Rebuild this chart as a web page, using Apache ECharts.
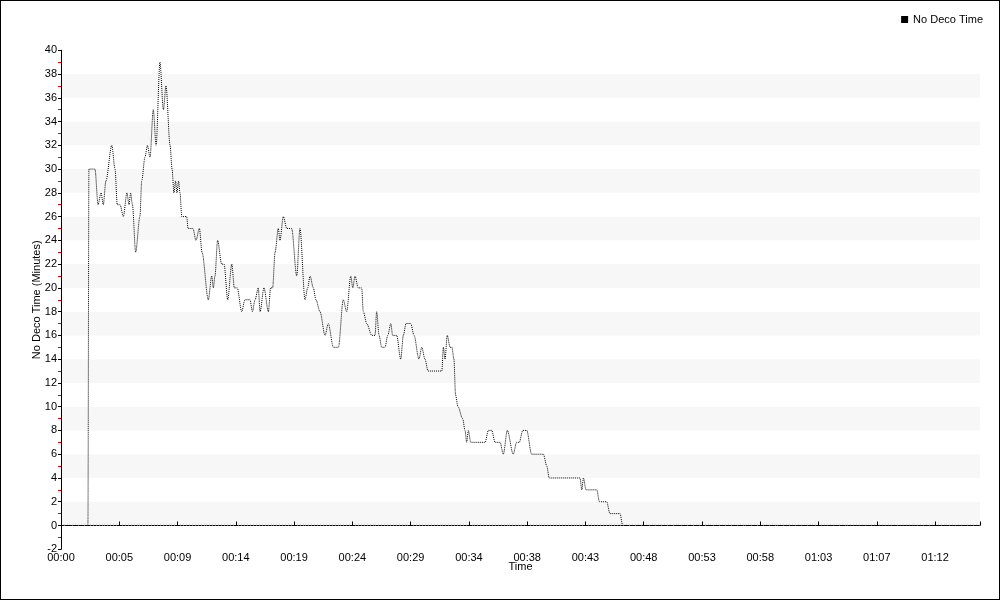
<!DOCTYPE html>
<html>
<head>
<meta charset="utf-8">
<script src="https://cdn.jsdelivr.net/npm/echarts@6/dist/echarts.min.js"></script>
<style>
html,body{margin:0;padding:0;background:#fff;}
#wrap{width:1000px;height:600px;box-sizing:border-box;border:1px solid #000;}
#chart{width:998px;height:598px;}
</style>
</head>
<body>
<div id="wrap"><div id="chart"></div></div>
<script>
// Elapsed dive time in seconds
const timeSec = [0,133,138,168,183,198,209,222,251,267,278,292,308,326,336,344,353,369,390,399,415,427,440,456,470,489,506,519,539,549,558,566,573,581,588,597,621,628,652,667,684,697,728,745,753,761,774,794,806,824,844,857,871,893,909,934,946,959,975,984,1003,1025,1036,1046,1058,1074,1082,1099,1116,1140,1165,1181,1206,1219,1231,1247,1260,1280,1305,1321,1346,1371,1395,1412,1432,1442,1453,1469,1486,1494,1511,1536,1552,1560,1572,1585,1601,1615,1630,1639,1659,1679,1692,1705,1728,1745,1769,1783,1799,1814,1882,1890,1898,1909,1923,1932,1942,1950,1962,1985,1997,2005,2013,2025,2096,2112,2129,2145,2170,2186,2206,2235,2252,2265,2282,2302,2326,2384,2401,2413,2565,2574,2582,2595,2648,2661,2697,2713,2763,2776,4542];
// No deco time in minutes
const noDecoMin = [0,0,30,30,27,28,27,29,32,30,27,27,26,28,27,28,27,23,26,29,31,32,31,35,32,39,35,37,32,30,28,29,28,29,28,26,26,25,25,24,25,23,19,21,20,21,24,22,22,19,22,20,20,18,19,19,18,19,20,18,20,18,20,20,23,25,24,26,25,25,21,25,19,20,21,20,19,18,16,17,15,15,19,18,21,20,21,20,20,18,17,16,16,18,16,15,15,16,17,16,16,14,16,17,17,16,14,15,14,13,13,15,14,16,15,15,14,11,10,9,8,7,8,7,7,8,8,7,7,6,8,6,7,7,8,8,6,6,5,4,4,3,4,3,3,2,2,1,1,0,0];
const xTickLabels = ['00:00','00:05','00:09','00:14','00:19','00:24','00:29','00:34','00:38','00:43','00:48','00:53','00:58','01:03','01:07','01:12'];
const seriesName = 'No Deco Time';
const TICK = 288;
const AXIS_END = 4542;

const data = timeSec.map((t, i) => [t, noDecoMin[i]]);
const font = 'Liberation Sans';
const chart = echarts.init(document.getElementById('chart'));
chart.setOption({
  animation: false,
  textStyle: {fontFamily: font},
  legend: {
    data: [{name: seriesName, icon: 'rect'}],
    right: 11, top: 8,
    itemWidth: 7, itemHeight: 7, itemGap: 4,
    textStyle: {fontSize: 11, color: '#000', fontFamily: font}
  },
  grid: {left: 60, right: 19, top: 49.26, bottom: 49.74},
  xAxis: {
    type: 'value', min: 0, max: AXIS_END, interval: TICK,
    name: 'Time', nameLocation: 'middle', nameGap: 12, nameMoveOverlap: false,
    nameTextStyle: {fontSize: 11, color: '#000'},
    axisLine: {lineStyle: {color: '#000', width: 1}},
    axisTick: {show: true, inside: true, length: 4, lineStyle: {color: '#000'}},
    minorTick: {show: true, splitNumber: 20, length: 2, lineStyle: {color: '#ddd'}},
    axisLabel: {fontSize: 11, color: '#000', margin: 3, showMaxLabel: false,
      formatter: v => xTickLabels[Math.round(v / TICK)] || ''},
    splitLine: {show: false}
  },
  yAxis: {
    type: 'value', min: -2, max: 40, interval: 2,
    name: 'No Deco Time (Minutes)', nameLocation: 'middle', nameGap: 19, nameMoveOverlap: false,
    nameTextStyle: {fontSize: 11, color: '#000'},
    axisLine: {show: true, lineStyle: {color: '#000', width: 1}},
    axisTick: {show: true, length: 3, lineStyle: {color: '#000'}},
    minorTick: {show: true, splitNumber: 2, length: 3, lineStyle: {color: '#e00000'}},
    axisLabel: {fontSize: 11, color: '#000', margin: 4},
    splitLine: {show: false},
    splitArea: {show: true, areaStyle: {color: ['#ffffff', '#f7f7f7']}}
  },
  series: [{
    name: seriesName, type: 'line', data: data,
    showSymbol: false, symbol: 'none',
    smooth: 0.3, smoothMonotone: 'x',
    itemStyle: {color: '#000'},
    lineStyle: {color: '#000', width: 1, type: [1, 1]}
  }]
});
</script>
</body>
</html>
